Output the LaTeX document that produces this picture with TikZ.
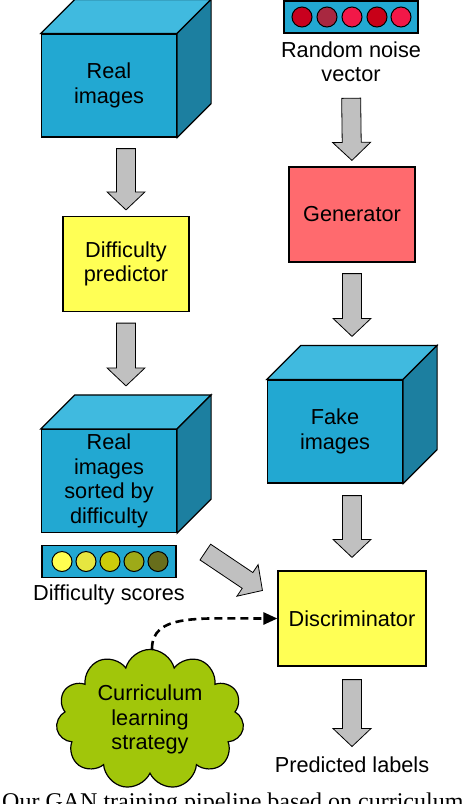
\documentclass[tikz,border=0pt]{standalone}
\usepackage{fontspec}
\setmainfont{Liberation Sans}
\newfontfamily\capfont{Liberation Serif}
\usepackage{tikz}
\usetikzlibrary{arrows.meta, positioning, calc, shapes.symbols}

\definecolor{cubefront}{RGB}{34,168,210}
\definecolor{cubetop}{RGB}{64,186,223}
\definecolor{cubeside}{RGB}{28,127,160}
\definecolor{boxyellow}{RGB}{255,255,85}
\definecolor{genred}{RGB}{255,106,110}
\definecolor{arrowgray}{RGB}{192,192,192}
\definecolor{cloudgreen}{RGB}{161,198,10}
\definecolor{nz1}{RGB}{200,0,30}
\definecolor{nz2}{RGB}{168,40,64}
\definecolor{nz3}{RGB}{242,24,72}
\definecolor{nz4}{RGB}{200,0,24}
\definecolor{nz5}{RGB}{242,24,72}
\definecolor{sc1}{RGB}{255,255,80}
\definecolor{sc2}{RGB}{230,230,64}
\definecolor{sc3}{RGB}{204,204,10}
\definecolor{sc4}{RGB}{158,170,24}
\definecolor{sc5}{RGB}{104,110,28}

% top and side faces of a cube whose front face is node #1
\newcommand{\cubefaces}[1]{%
  \draw[cubeline, fill=cubetop] (#1.north west) -- ++(34,-34)
    -- ($(#1.north east)+(34,-34)$) -- (#1.north east) -- cycle;
  \draw[cubeline, fill=cubeside] (#1.north east) -- ++(34,-34)
    -- ($(#1.south east)+(34,-34)$) -- (#1.south east) -- cycle;
  \coordinate (#1-top) at ($(#1.north)+(17,-34)$);
  \coordinate (#1-bot) at ($(#1.south)+(17,0)$);
}

\tikzset{
  bgap/.store in=\bgap, bgap=11pt,
  egap/.store in=\egap, egap=6pt,
  blockarrow/.style={draw=black, line width=0.8pt, fill=arrowgray, line join=miter,
    to path={
      ($(\tikztostart)!\bgap!(\tikztotarget)$) coordinate (ba-s)
      ($(\tikztotarget)!\egap!(\tikztostart)$) coordinate (ba-e)
      ($(ba-s)!9.5pt!90:(ba-e)$)
      -- ($(ba-e)!18pt!(ba-s)!9.5pt!90:(ba-e)$)
      -- ($(ba-e)!18pt!(ba-s)!19pt!90:(ba-e)$)
      -- (ba-e)
      -- ($(ba-e)!18pt!(ba-s)!19pt!-90:(ba-e)$)
      -- ($(ba-e)!18pt!(ba-s)!9.5pt!-90:(ba-e)$)
      -- ($(ba-s)!9.5pt!-90:(ba-e)$) -- cycle}},
}

\begin{document}
\begin{tikzpicture}[x=1pt, y=-1pt,
  font=\fontsize{21.7}{24.5}\selectfont,
  cube/.style={draw, line width=1.2pt, fill=cubefront, minimum width=135pt,
               minimum height=103pt, align=center, inner sep=0pt},
  cubeline/.style={draw, line width=1.2pt},
  block/.style={draw, line width=1.2pt, minimum width=126pt, minimum height=95pt,
                align=center},
  bar/.style={draw, line width=1.2pt, fill=cubefront, minimum width=134pt,
              minimum height=32pt},
  dot/.style={circle, draw, line width=1pt, minimum size=20pt, inner sep=0pt},
  txt/.style={align=center},
  dashline/.style={line width=2.6pt, dash pattern=on 8pt off 5pt,
                   -{Triangle[length=14pt, width=12pt]}}
]
  \useasboundingbox (0,0) rectangle (464,804);
  \clip (0,0) rectangle (464,804);

  % left column
  \node[cube] (real) at (109,85.5) {Real\\images};
  \cubefaces{real}
  \node[block, fill=boxyellow] (pred) at (126,264) {Difficulty\\predictor};
  \node[cube] (sorted) at (109,481) {Real\\images\\sorted by\\difficulty};
  \cubefaces{sorted}
  \node[bar] (scores) at (109,561.5) {};
  \foreach \c/\x in {sc1/62, sc2/86, sc3/110, sc4/134, sc5/158}
    \node[dot, fill=\c] (s-\c) at (\x,561.5) {};
  \node[txt] (scorestext) at (109,595) {Difficulty scores};
  \node[cloud, cloud puffs=11, aspect=1.6, draw, line width=1.2pt, fill=cloudgreen,
        minimum width=185pt, minimum height=119pt, align=center]
        (cl) at (150,719.5) {Curriculum\\learning\\strategy};

  % right column
  \node[bar] (noise) at (351,17) {};
  \foreach \c/\x in {nz1/302, nz2/327, nz3/352, nz4/377, nz5/401}
    \node[dot, fill=\c] (n-\c) at (\x,17) {};
  \node[txt] (noisetext) at (351,61.5) {Random noise\\vector};
  \node[block, fill=genred] (gen) at (352,214.5) {Generator};
  \node[cube] (fake) at (335,431.5) {Fake\\images};
  \cubefaces{fake}
  \node[block, fill=boxyellow, minimum width=148pt] (disc) at (352,618.5) {Discriminator};
  \node[txt] (labels) at (352,765) {Predicted labels};

  % connectors
  \draw[blockarrow] (real-bot) to (pred.north);
  \draw[blockarrow, egap=9pt] (pred.south) to (sorted-top);
  \draw[blockarrow, bgap=13pt] (noisetext.south) to (gen.north);
  \draw[blockarrow, egap=9pt] (gen.south) to (fake-top);
  \draw[blockarrow, bgap=12pt, egap=13pt] (fake-bot) to (disc.north);
  \draw[blockarrow, bgap=13pt, egap=7pt] (disc.south) to (labels.north);
  \coordinate (disctip) at ($(disc.west)+(0,-18)$);
  \draw[blockarrow, bgap=34pt, egap=18pt] (sorted.south east) to (disctip);
  \draw[dashline] ($(cl.north)+(2,0)$) .. controls +(0,-35) and +(-80,0) .. (disc.west);

  \node[anchor=base west, inner sep=0pt, font=\capfont\fontsize{24}{28}\selectfont]
    (caption) at (2,809) {Our GAN training pipeline based on curriculum};
\end{tikzpicture}
\end{document}
